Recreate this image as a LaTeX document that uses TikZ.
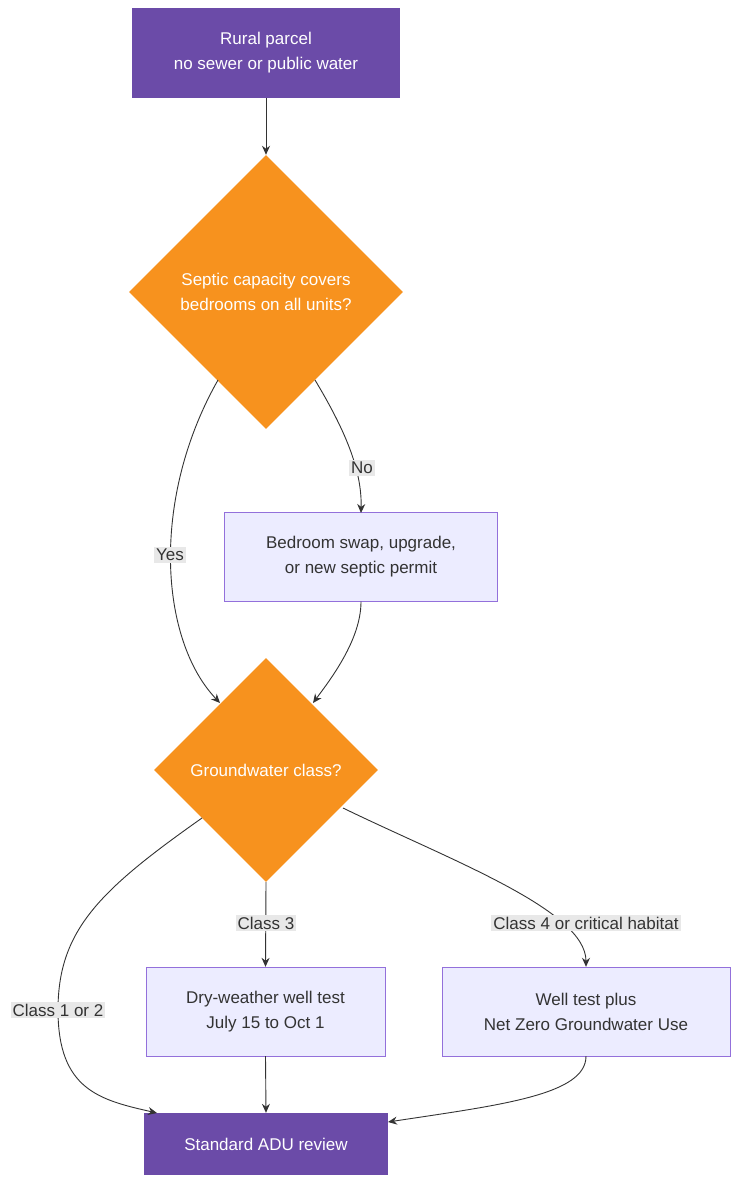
\documentclass[tikz,border=0pt]{standalone}
\usepackage{fontspec}
\setmainfont{Liberation Sans}
\usetikzlibrary{shapes.geometric,arrows.meta}
\definecolor{pur}{HTML}{6B4BA8}
\definecolor{org}{HTML}{F7921E}
\definecolor{lav}{HTML}{ECECFF}
\definecolor{lavb}{HTML}{9370DB}
\definecolor{lbl}{HTML}{E8E8E8}
\definecolor{ln}{HTML}{333333}
\tikzset{
  x=1pt,y=-1pt,
  every node/.style={font=\fontsize{17}{25}\selectfont,align=center},
  term/.style={fill=pur,text=white,minimum width=#1,minimum height=62,inner sep=0},
  dec/.style={diamond,fill=org,text=white,inner sep=0,minimum width=#1,minimum height=#1},
  proc/.style={fill=lav,draw=lavb,text=ln,minimum width=#1,minimum height=89,inner sep=0},
  lab/.style={fill=lbl,text=ln,inner sep=2pt},
  conn/.style={draw=ln,line width=0.9pt,-{Stealth[length=9pt,width=8pt]}}
}
\begin{document}
\begin{tikzpicture}
\useasboundingbox (0,0) rectangle (749,1200);
\node[term=268,minimum height=90] (a) at (266,53) {Rural parcel\\no sewer or public water};
\node[dec=274] (b) at (266,292) {Septic capacity covers\\bedrooms on all units?};
\node[proc=273] (c) at (361,557) {Bedroom swap, upgrade,\\or new septic permit};
\node[dec=224] (d) at (266,770) {Groundwater class?};
\node[proc=239] (e) at (265.5,1011.5) {Dry-weather well test\\July 15 to Oct 1};
\node[proc=288] (f) at (586,1011.5) {Well test plus\\Net Zero Groundwater Use};
\node[term=244] (g) at (266,1144) {Standard ADU review};
\draw[conn] (a) -- (b);
\draw[conn] (218,380) .. controls (150,500) and (160,640) .. (220,703);
\node[lab] at (170,555) {Yes};
\draw[conn] (315,380) .. controls (345,430) and (362,470) .. (361,513);
\node[lab] at (362,468) {No};
\draw[conn] (c.south) .. controls (361,640) and (330,680) .. (313,703);
\draw[conn] (202,818) .. controls (100,890) and (58,930) .. (58,1010) .. controls (58,1090) and (100,1100) .. (157,1113);
\node[lab] at (58,1010) {Class 1 or 2};
\draw[conn] (d.south) -- (e.north);
\node[lab] at (266,923) {Class 3};
\draw[conn] (343,808) .. controls (450,860) and (586,910) .. (f.north);
\node[lab] at (586,923) {Class 4 or critical habitat};
\draw[conn] (e.south) -- (g.north);
\draw[conn] (f.south) .. controls (586,1095) and (500,1105) .. (388,1122);
\end{tikzpicture}
\end{document}
